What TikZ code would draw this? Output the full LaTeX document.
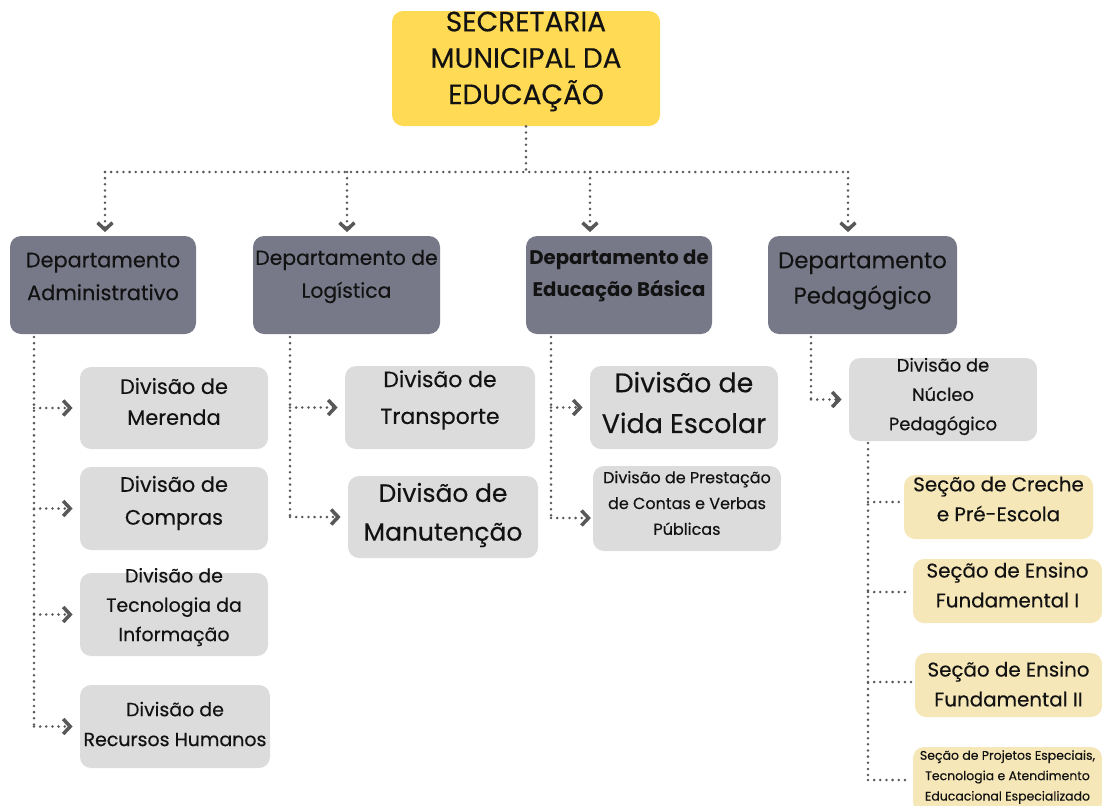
\documentclass[tikz,border=0pt]{standalone}
\usepackage{fontspec}
\setmainfont{Poppins}[UprightFeatures={FakeBold=0.35}]
\usetikzlibrary{arrows.meta}
\definecolor{ylw}{HTML}{FFDA55}
\definecolor{dgray}{HTML}{777989}
\definecolor{lgray}{HTML}{DCDCDC}
\definecolor{beige}{HTML}{F5E7B8}
\definecolor{conc}{HTML}{585858}
\definecolor{txt}{HTML}{121212}
\tikzset{
  box/.style 2 args={rectangle, rounded corners=0.22cm, minimum width=#1*0.02cm, minimum height=#2*0.02cm, inner sep=0pt},
  topbox/.style={fill=ylw},
  deptbox/.style={fill=dgray},
  divbox/.style={fill=lgray},
  secbox/.style={fill=beige},
  t/.style={align=center, inner sep=0pt, text=txt},
  conn/.style={draw=conc, line width=1.6pt, dash pattern=on 0pt off 3.5pt, line cap=round},
  arr/.style={-{Straight Barb[length=4pt,width=8.5pt,line width=2pt]}, shorten >=2pt},
}
\begin{document}
\begin{tikzpicture}[x=0.02cm, y=-0.02cm]
\useasboundingbox (0,0) rectangle (1102,805);
% top
\node[box={268}{115}, topbox] (top) at (526,68.5) {};
\node[t, font={\fontsize{15.9}{20.7}\selectfont}] (topT) at (526,61.5) {SECRETARIA\\MUNICIPAL DA\\EDUCAÇÃO};
% departments
\node[box={186}{98}, deptbox] (d1) at (103,285) {};
\node[t, font={\fontsize{11.9}{18.7}\selectfont}] (d1T) at (103,276.5) {Departamento\\Administrativo};
\node[box={187}{98}, deptbox] (d2) at (346.5,285) {};
\node[t, font={\fontsize{11.6}{18.7}\selectfont}] (d2T) at (346.5,276.5) {Departamento de\\Logística};
\node[box={186}{98}, deptbox] (d3) at (619,285) {};
\node[t, font={\fontsize{11.2}{18.4}\selectfont\bfseries}] (d3T) at (619,276) {Departamento de\\Educação Básica};
\node[box={189}{98}, deptbox] (d4) at (862.5,285) {};
\node[t, font={\fontsize{13.0}{20.1}\selectfont}] (d4T) at (862.5,281) {Departamento\\Pedagógico};
% divisions of d1
\node[box={188}{82}, divbox] (me) at (174,408) {};
\node[t, font={\fontsize{11.9}{17.6}\selectfont}] (meT) at (174,401.5) {Divisão de\\Merenda};
\node[box={188}{83}, divbox] (co) at (174,508.5) {};
\node[t, font={\fontsize{11.9}{18.7}\selectfont}] (coT) at (174,503) {Divisão de\\Compras};
\node[box={188}{83}, divbox] (te) at (174,614.5) {};
\node[t, font={\fontsize{10.8}{16.7}\selectfont}] (teT) at (174,607) {Divisão de\\Tecnologia da\\Informação};
\node[box={190}{83}, divbox] (rh) at (175,726.5) {};
\node[t, font={\fontsize{10.8}{17}\selectfont}] (rhT) at (175,724) {Divisão de\\Recursos Humanos};
% divisions of d2
\node[box={190}{83}, divbox] (tr) at (440,407.5) {};
\node[t, font={\fontsize{12.5}{21}\selectfont}] (trT) at (440,400) {Divisão de\\Transporte};
\node[box={190}{82}, divbox] (ma) at (443,517) {};
\node[t, font={\fontsize{14.2}{22.1}\selectfont}] (maT) at (443,515) {Divisão de\\Manutenção};
% divisions of d3
\node[box={188}{83}, divbox] (vi) at (684,407.5) {};
\node[t, font={\fontsize{15.3}{23.2}\selectfont}] (viT) at (684,402.5) {Divisão de\\Vida Escolar};
\node[box={188}{85}, divbox] (pr) at (687,508.5) {};
\node[t, font={\fontsize{9.1}{14.7}\selectfont}] (prT) at (687,503) {Divisão de Prestação\\de Contas e Verbas\\Públicas};
% division of d4
\node[box={188}{83}, divbox] (nu) at (943,399.5) {};
\node[t, font={\fontsize{10.2}{16.7}\selectfont}] (nuT) at (943,396.5) {Divisão de\\Núcleo\\Pedagógico};
% sections
\node[box={189}{64}, secbox] (s1) at (998.5,507) {};
\node[t, font={\fontsize{11.3}{17}\selectfont}] (s1T) at (998.5,499) {Seção de Creche\\e Pré-Escola};
\node[box={189}{64}, secbox] (s2) at (1007.5,591) {};
\node[t, font={\fontsize{11.3}{17}\selectfont}] (s2T) at (1007.5,585) {Seção de Ensino\\Fundamental I};
\node[box={187}{64}, secbox] (s3) at (1008.5,685) {};
\node[t, font={\fontsize{11.3}{17}\selectfont}] (s3T) at (1008.5,684) {Seção de Ensino\\Fundamental II};
\node[box={189}{66}, secbox] (s4) at (1007.5,780) {};
\node[t, font={\fontsize{7.1}{11.6}\selectfont}] (s4T) at (1007.5,777) {Seção de Projetos Especiais,\\Tecnologia e Atendimento\\Educacional Especializado};
% top connectors
\coordinate (b0) at (526,172);
\coordinate (b1) at (105,172);
\coordinate (b2) at (347,172);
\coordinate (b3) at (590,172);
\coordinate (b4) at (848,172);
\draw[conn] (top.south) -- (b0);
\draw[conn] (b1) -- (b4);
\foreach \i in {1,2,3,4} {\draw[conn,arr] (b\i) -- (b\i |- d\i.north);}
% d1 connectors
\coordinate (v1) at (34,337);
\draw[conn] (v1) -- (v1 |- rh.west);
\foreach \n in {me,co,te,rh} {\draw[conn,arr,shorten >=4pt] (v1 |- \n.west) -- (\n.west);}
% d2 connectors
\coordinate (v2) at (290,337);
\draw[conn] (v2) -- (v2 |- ma.west);
\foreach \n in {tr,ma} {\draw[conn,arr,shorten >=4pt] (v2 |- \n.west) -- (\n.west);}
% d3 connectors
\coordinate (v3) at (551,337);
\coordinate (p3) at (551,518);
\draw[conn] (v3) -- (p3);
\draw[conn,arr,shorten >=4pt] (v3 |- vi.west) -- (vi.west);
\draw[conn,arr,shorten >=1pt] (p3) -- (p3 -| pr.west);
% d4 connectors
\coordinate (v4) at (811,337);
\draw[conn] (v4) -- (v4 |- nu.west);
\draw[conn,arr,shorten >=4pt] (v4 |- nu.west) -- (nu.west);
% nucleo connectors
\coordinate (v5) at (868,443);
\coordinate (q1) at (868,502);
\coordinate (q2) at (868,592);
\coordinate (q3) at (868,682);
\coordinate (q4) at (868,780);
\draw[conn] (v5) -- (q4);
\draw[conn,shorten >=2pt] (q1) -- (q1 -| s1.west);
\draw[conn,shorten >=2pt] (q2) -- (q2 -| s2.west);
\draw[conn,shorten >=2pt] (q3) -- (q3 -| s3.west);
\draw[conn,shorten >=2pt] (q4) -- (q4 -| s4.west);
\end{tikzpicture}
\end{document}
